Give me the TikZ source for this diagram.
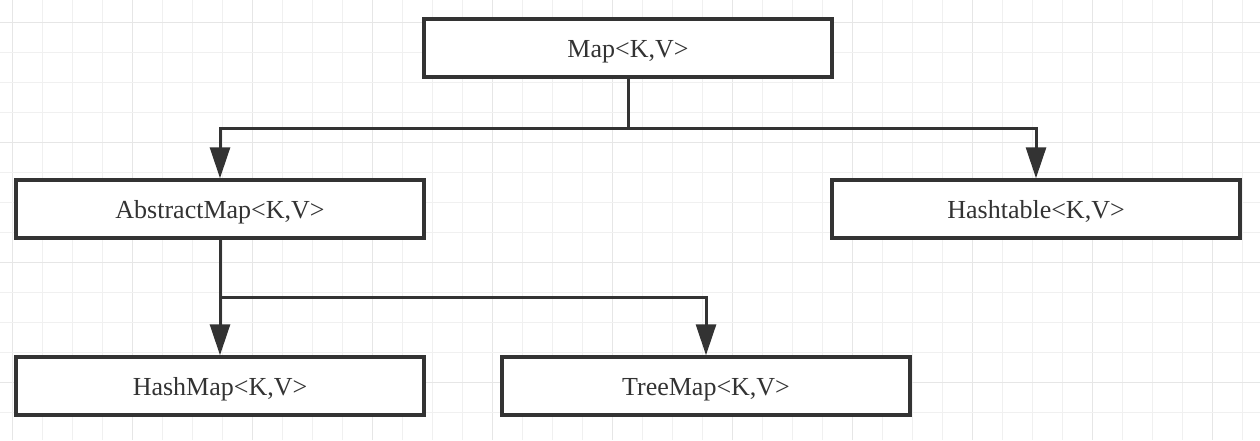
\documentclass[tikz,border=0pt]{standalone}
\usepackage{fontspec}
\setmainfont{Liberation Serif}
\usetikzlibrary{arrows.meta}
\definecolor{ink}{HTML}{333333}
\definecolor{gridminor}{HTML}{F0F0F0}
\definecolor{gridmajor}{HTML}{E6E6E6}
\begin{document}
\begin{tikzpicture}[x=1pt,y=-1pt,
  classbox/.style={draw=ink,line width=3.5pt,fill=white,minimum width=408pt,minimum height=58pt,inner sep=0pt,text=ink,text height=21pt,text depth=3pt,font=\fontsize{26}{30}\selectfont},
  arr/.style={draw=ink,line width=3pt,line join=miter,-{Triangle[width=20pt,length=31pt]}},
  link/.style={draw=ink,line width=3pt,line join=miter}]
\useasboundingbox (0,0) rectangle (1260,440);
\fill[white] (0,0) rectangle (1260,440);
% grid
\foreach \i in {0,...,41}{
  \pgfmathsetmacro{\xx}{12.7+30*\i}
  \pgfmathtruncatemacro{\m}{mod(\i,4)}
  \ifnum\m=0
    \draw[gridmajor,line width=1.3pt] (\xx,0) -- (\xx,440);
  \else
    \draw[gridminor,line width=1pt] (\xx,0) -- (\xx,440);
  \fi
}
\foreach \i in {0,...,14}{
  \pgfmathsetmacro{\yy}{22.7+30*\i}
  \pgfmathtruncatemacro{\m}{mod(\i,4)}
  \ifnum\m=0
    \draw[gridmajor,line width=1.3pt] (0,\yy) -- (1260,\yy);
  \else
    \draw[gridminor,line width=1pt] (0,\yy) -- (1260,\yy);
  \fi
}
% nodes
\node[classbox] (map) at (628,48) {Map<K,V>};
\node[classbox] (abs) at (220,209) {AbstractMap<K,V>};
\node[classbox] (ht) at (1036,209) {Hashtable<K,V>};
\node[classbox] (hm) at (220,386) {HashMap<K,V>};
\node[classbox] (tm) at (706,386) {TreeMap<K,V>};
% connectors
\coordinate (j1) at (628,128);
\coordinate (j2) at (220,297);
\draw[link] (map.south) -- (j1);
\draw[arr] (j1) -| (abs.north);
\draw[arr] (j1) -| (ht.north);
\draw[arr] (abs.south) -- (hm.north);
\draw[arr] (j2) -| (tm.north);
\end{tikzpicture}
\end{document}
